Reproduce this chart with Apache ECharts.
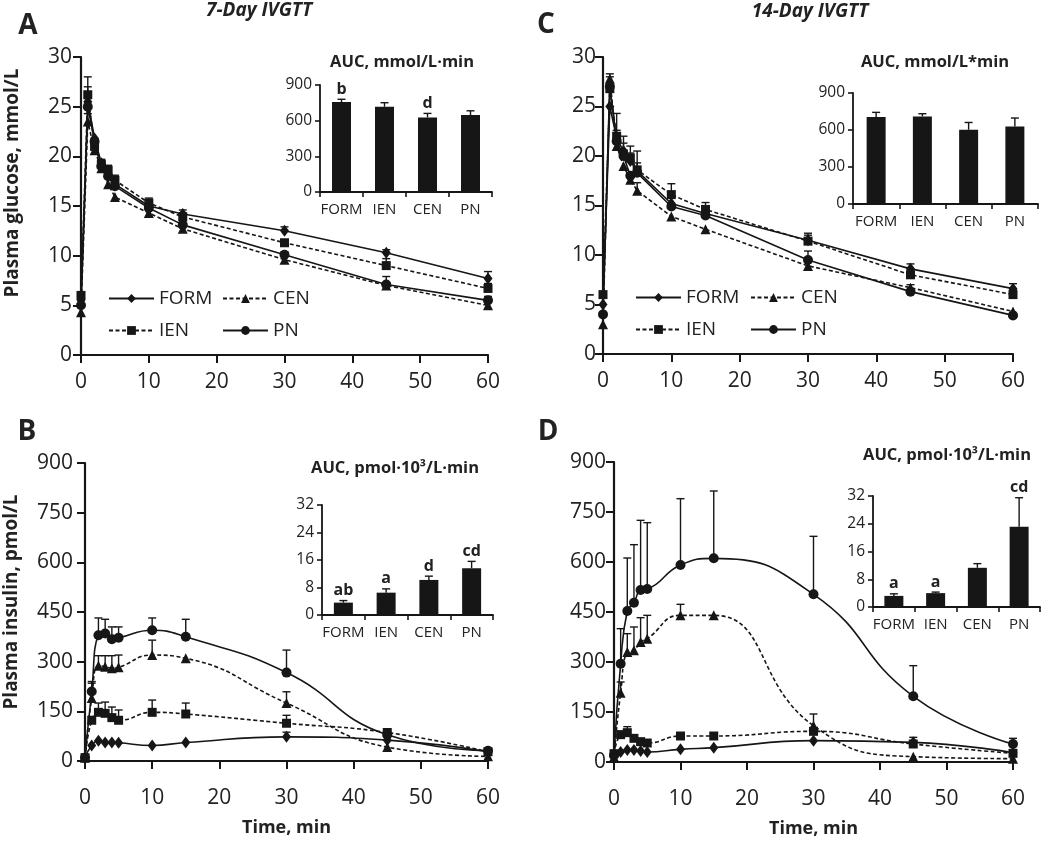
<!DOCTYPE html>
<html><head><meta charset="utf-8">
<script src="https://cdn.jsdelivr.net/npm/echarts@6/dist/echarts.min.js"></script>
<style>html,body{margin:0;padding:0;background:#fff}#c{width:1050px;height:842px}</style>
</head><body><div id="c"></div>
<script>
// ---------- DATA ----------
const timeMin = [0, 1, 2, 3, 4, 5, 10, 15, 30, 45, 60];
const groupNames = ['FORM', 'IEN', 'CEN', 'PN'];
const xTicks = [0, 10, 20, 30, 40, 50, 60];

// Panel A: 7-day glucose (mmol/L), values and upper error-bar ends
const glu7FORM = [5.5, 25.5, 21.8, 19.3, 18.0, 17.2, 15.0, 14.2, 12.5, 10.3, 7.7];
const glu7IEN  = [6.0, 26.2, 21.0, 19.2, 18.6, 17.6, 15.3, 13.9, 11.3, 9.0, 6.7];
const glu7CEN  = [4.3, 23.5, 20.6, 18.8, 17.2, 15.9, 14.3, 12.7, 9.6, 7.0, 5.0];
const glu7PN   = [5.0, 25.0, 21.5, 19.0, 18.0, 17.0, 14.8, 13.1, 10.1, 7.1, 5.5];
const glu7FORMErr = [null, 27.0, null, null, null, null, 15.5, 14.6, 12.9, 10.6, 8.4];
const glu7IENErr  = [null, 28.0, 21.6, 19.7, 19.1, 18.1, 15.8, 14.3, 11.6, 9.7, 7.2];
const glu7CENErr  = [null, 24.3, null, null, null, null, null, null, null, 7.9, null];
const glu7PNErr   = [null, null, null, null, null, null, null, null, 10.4, null, 5.9];

// Panel C: 14-day glucose (mmol/L)
const glu14FORM = [5.0, 25.0, 21.8, 20.5, 19.5, 18.5, 15.2, 14.2, 11.5, 8.6, 6.6];
const glu14IEN  = [6.0, 26.8, 22.0, 20.2, 19.8, 18.6, 16.1, 14.6, 11.4, 8.0, 6.0];
const glu14CEN  = [3.0, 27.8, 21.0, 19.0, 17.6, 16.5, 13.9, 12.6, 8.9, 6.7, 4.3];
const glu14PN   = [4.0, 27.0, 21.5, 20.0, 18.0, 18.3, 14.9, 14.0, 9.5, 6.3, 3.9];
const glu14FORMErr = [null, null, 22.6, 21.3, 20.3, 19.3, 15.9, 14.8, 12.2, 9.1, 7.1];
const glu14IENErr  = [null, 28.0, 24.3, 22.0, 21.0, 20.5, 17.2, 15.3, 12.0, 8.5, 6.5];
const glu14CENErr  = [null, 28.3, null, null, null, 17.3, null, null, null, 7.0, null];
const glu14PNErr   = [null, null, null, null, null, null, null, null, 10.4, null, null];

// Panel B: 7-day insulin (pmol/L)
const ins7FORM = [10, 47, 61, 56, 56, 55, 47, 56, 73, 63, 28];
const ins7IEN  = [10, 123, 147, 144, 131, 123, 147, 142, 114, 86, 28];
const ins7CEN  = [10, 190, 288, 285, 280, 283, 320, 310, 175, 42, 14];
const ins7PN   = [10, 210, 380, 385, 368, 372, 395, 375, 267, 79, 31];
const ins7FORMErr = [null, null, null, null, null, null, null, null, 87, null, null];
const ins7IENErr  = [null, null, 175, 178, 163, 154, 184, 175, 138, 94, null];
const ins7CENErr  = [null, 240, 318, 318, 318, 320, 365, null, 209, null, null];
const ins7PNErr   = [null, 235, 432, 428, 405, 405, 432, 428, 335, null, null];

// Panel D: 14-day insulin (pmol/L)
const ins14FORM = [20, 30, 36, 36, 33, 30, 38, 43, 64, 59, 28];
const ins14IEN  = [25, 82, 88, 71, 61, 57, 78, 78, 92, 54, 26];
const ins14CEN  = [15, 208, 330, 335, 360, 370, 440, 440, 109, 16, 10];
const ins14PN   = [20, 295, 453, 478, 516, 519, 591, 611, 503, 197, 54];
const ins14FORMErr = [null, null, null, null, null, null, null, null, null, null, null];
const ins14IENErr  = [null, 92, 106, null, null, null, null, null, null, 74, null];
const ins14CENErr  = [null, 240, 385, 405, 433, 440, 473, null, 144, null, null];
const ins14PNErr   = [null, 400, 612, 652, 725, 718, 790, 813, 677, 289, 71];

// Insets: AUC bars
const aucGlu7 = [757, 717, 627, 647];
const aucGlu7Err = [780, 751, 661, 683];
const aucGlu7Letters = ['b', '', 'd', ''];
const aucGlu14 = [705, 710, 602, 629];
const aucGlu14Err = [743, 732, 661, 697];
const aucGlu14Letters = ['', '', '', ''];
const aucIns7 = [3.6, 6.5, 10.2, 13.6];
const aucIns7Err = [4.2, 7.6, 11.3, 15.6];
const aucIns7Letters = ['ab', 'a', 'd', 'cd'];
const aucIns14 = [3.2, 4.0, 11.3, 23.1];
const aucIns14Err = [3.8, 4.3, 12.5, 31.5];
const aucIns14Letters = ['a', 'a', '', 'cd'];

// ---------- CHART ----------
const FONT = '"Open Sans", "DejaVu Sans", sans-serif';
const INK = '#161616';
const TXT = '#222';
const styleOf = {
  FORM: {symbol: 'diamond', size: [9, 12], type: 'solid'},
  IEN:  {symbol: 'rect', size: 9, type: [4, 2.5]},
  CEN:  {symbol: 'triangle', size: 10, type: [4, 2.5]},
  PN:   {symbol: 'circle', size: 10, type: 'solid'}
};

const panels = [
  {grid: {left: 81, top: 57, width: 407, height: 298}, yMax: 30, yInt: 5, xMargin: 17, yMargin: 9, xName: '', smooth: false,
   vals: {FORM: glu7FORM, IEN: glu7IEN, CEN: glu7CEN, PN: glu7PN},
   errs: {FORM: glu7FORMErr, IEN: glu7IENErr, CEN: glu7CENErr, PN: glu7PNErr}},
  {grid: {left: 603, top: 57, width: 410, height: 297}, yMax: 30, yInt: 5, xMargin: 17, yMargin: 7, xName: '', smooth: false,
   vals: {FORM: glu14FORM, IEN: glu14IEN, CEN: glu14CEN, PN: glu14PN},
   errs: {FORM: glu14FORMErr, IEN: glu14IENErr, CEN: glu14CENErr, PN: glu14PNErr}},
  {grid: {left: 85, top: 463, width: 403, height: 298}, yMax: 900, yInt: 150, xMargin: 27, yMargin: 12, xName: 'Time, min', smooth: 0.5,
   vals: {FORM: ins7FORM, IEN: ins7IEN, CEN: ins7CEN, PN: ins7PN},
   errs: {FORM: ins7FORMErr, IEN: ins7IENErr, CEN: ins7CENErr, PN: ins7PNErr}},
  {grid: {left: 614, top: 462, width: 399, height: 300}, yMax: 900, yInt: 150, xMargin: 27, yMargin: 8, xName: 'Time, min', smooth: 0.5,
   vals: {FORM: ins14FORM, IEN: ins14IEN, CEN: ins14CEN, PN: ins14PN},
   errs: {FORM: ins14FORMErr, IEN: ins14IENErr, CEN: ins14CENErr, PN: ins14PNErr}}
];

const insets = [
  {grid: {left: 320, top: 85, width: 172, height: 107}, yMax: 900, yInt: 300, vals: aucGlu7, errs: aucGlu7Err, letters: aucGlu7Letters},
  {grid: {left: 853, top: 93, width: 185, height: 111}, yMax: 900, yInt: 300, vals: aucGlu14, errs: aucGlu14Err, letters: aucGlu14Letters},
  {grid: {left: 322, top: 505, width: 171, height: 110}, yMax: 32, yInt: 8, vals: aucIns7, errs: aucIns7Err, letters: aucIns7Letters},
  {grid: {left: 873, top: 496, width: 167, height: 111}, yMax: 32, yInt: 8, vals: aucIns14, errs: aucIns14Err, letters: aucIns14Letters}
];

const grids = [], xAxes = [], yAxes = [], series = [];

function errRender(capW, letters) {
  return function (params, api) {
    const p = api.coord([api.value(0), api.value(1)]);
    const q = api.coord([api.value(0), api.value(2)]);
    const ls = {stroke: INK, lineWidth: 1.4};
    const children = [
      {type: 'line', shape: {x1: p[0], y1: p[1], x2: q[0], y2: q[1]}, style: ls},
      {type: 'line', shape: {x1: q[0] - capW / 2, y1: q[1], x2: q[0] + capW / 2, y2: q[1]}, style: ls}
    ];
    if (letters) {
      const t = letters[api.value(3)];
      if (t) children.push({type: 'text', x: q[0], y: q[1] - 2,
        style: {text: t, fill: TXT, font: 'bold 16px ' + FONT, align: 'center', verticalAlign: 'bottom'}});
    }
    return {type: 'group', children: children};
  };
}

panels.forEach((pn, gi) => {
  grids.push(pn.grid);
  xAxes.push({
    type: 'value', gridIndex: gi, min: 0, max: 60, interval: 10,
    name: pn.xName, nameLocation: 'middle', nameGap: 58,
    nameTextStyle: {fontFamily: FONT, fontWeight: 'bold', fontSize: 18, color: TXT},
    axisLine: {show: true, onZero: false, lineStyle: {color: INK, width: 2.2}},
    axisTick: {show: true, length: 8, lineStyle: {color: INK, width: 2}},
    axisLabel: {fontFamily: FONT, fontSize: 21, color: TXT, margin: pn.xMargin},
    splitLine: {show: false}
  });
  yAxes.push({
    type: 'value', gridIndex: gi, min: 0, max: pn.yMax, interval: pn.yInt,
    axisLine: {show: true, onZero: false, lineStyle: {color: INK, width: 2.2}},
    axisTick: {show: true, length: 8, lineStyle: {color: INK, width: 2}},
    axisLabel: {fontFamily: FONT, fontSize: 21, color: TXT, margin: pn.yMargin},
    splitLine: {show: false}
  });
});

insets.forEach((ins, k) => {
  const gi = 4 + k;
  grids.push(ins.grid);
  xAxes.push({
    type: 'category', gridIndex: gi, data: groupNames,
    axisLine: {show: true, lineStyle: {color: INK, width: 1.8}},
    axisTick: {show: true, length: 5, lineStyle: {color: INK, width: 1.6}},
    axisLabel: {fontFamily: FONT, fontSize: 15, color: TXT, margin: 10, interval: 0}
  });
  yAxes.push({
    type: 'value', gridIndex: gi, min: 0, max: ins.yMax, interval: ins.yInt,
    axisLine: {show: true, lineStyle: {color: INK, width: 1.8}},
    axisTick: {show: true, length: 5, lineStyle: {color: INK, width: 1.6}},
    axisLabel: {fontFamily: FONT, fontSize: 15.5, color: TXT, margin: 8},
    splitLine: {show: false}
  });
});

// main line series
panels.forEach((pn, gi) => {
  groupNames.forEach(name => {
    const st = styleOf[name];
    series.push({
      type: 'line', name: name, xAxisIndex: gi, yAxisIndex: gi,
      data: timeMin.map((t, i) => [t, pn.vals[name][i]]),
      symbol: st.symbol, symbolSize: st.size, showSymbol: true,
      smooth: pn.smooth,
      lineStyle: {color: INK, width: 1.6, type: st.type},
      itemStyle: {color: INK},
      emphasis: {disabled: true}, z: 3
    });
  });
});
// error bars for main panels
panels.forEach((pn, gi) => {
  groupNames.forEach(name => {
    const d = [];
    timeMin.forEach((t, i) => {
      const e = pn.errs[name][i];
      if (e !== null) d.push([t, pn.vals[name][i], e]);
    });
    series.push({
      type: 'custom', xAxisIndex: gi, yAxisIndex: gi, data: d,
      encode: {x: 0, y: [1, 2]}, renderItem: errRender(8), z: 2, silent: true
    });
  });
});
// inset bars
insets.forEach((ins, k) => {
  const gi = 4 + k;
  series.push({
    type: 'bar', name: 'AUC' + k, xAxisIndex: gi, yAxisIndex: gi,
    data: ins.vals, barWidth: 19, itemStyle: {color: INK}, silent: true
  });
  series.push({
    type: 'custom', xAxisIndex: gi, yAxisIndex: gi,
    data: ins.vals.map((v, i) => [i, v, ins.errs[i], i]),
    encode: {x: 0, y: [1, 2]}, renderItem: errRender(8, ins.letters), z: 4, silent: true
  });
});

// legends (panel A and C)
const legendPos = [
  {name: 'FORM', left: 108, top: 289}, {name: 'CEN', left: 222, top: 289},
  {name: 'IEN', left: 108, top: 321}, {name: 'PN', left: 222, top: 321},
  {name: 'FORM', left: 635, top: 288}, {name: 'CEN', left: 750, top: 288},
  {name: 'IEN', left: 635, top: 320}, {name: 'PN', left: 750, top: 320}
];
const legends = legendPos.map(l => ({
  data: [l.name], left: l.left, top: l.top, padding: 0, itemGap: 0,
  itemWidth: 45, itemHeight: 11, selectedMode: false,
  textStyle: {fontFamily: FONT, fontSize: 19, color: TXT, padding: [0, 0, 0, 0]}
}));

function txt(x, y, text, font, extra) {
  return Object.assign({type: 'text', x: x, y: y,
    style: {text: text, font: font, fill: TXT, align: 'center', verticalAlign: 'middle'}}, extra || {});
}
const graphics = [
  txt(28, 26, 'A', 'bold 28px ' + FONT),
  txt(27, 432, 'B', 'bold 28px ' + FONT),
  txt(546, 25, 'C', 'bold 28px ' + FONT),
  txt(548, 432, 'D', 'bold 28px ' + FONT),
  txt(259, 11, '7-Day IVGTT', 'italic bold 19px ' + FONT),
  txt(810, 12, '14-Day IVGTT', 'italic bold 19px ' + FONT),
  txt(402, 62, 'AUC, mmol/L·min', 'bold 16.5px ' + FONT),
  txt(935, 62, 'AUC, mmol/L*min', 'bold 16.5px ' + FONT),
  txt(395, 468, 'AUC, pmol·10³/L·min', 'bold 16.5px ' + FONT),
  txt(947, 455, 'AUC, pmol·10³/L·min', 'bold 16.5px ' + FONT),
  txt(13, 183, 'Plasma glucose, mmol/L', 'bold 19px ' + FONT, {rotation: Math.PI / 2}),
  txt(12, 602, 'Plasma insulin, pmol/L', 'bold 19px ' + FONT, {rotation: Math.PI / 2})
];

const chart = echarts.init(document.getElementById('c'));
chart.setOption({
  backgroundColor: '#fff',
  animation: false,
  textStyle: {fontFamily: FONT},
  grid: grids, xAxis: xAxes, yAxis: yAxes,
  legend: legends,
  series: series,
  graphic: graphics
});
</script></body></html>
